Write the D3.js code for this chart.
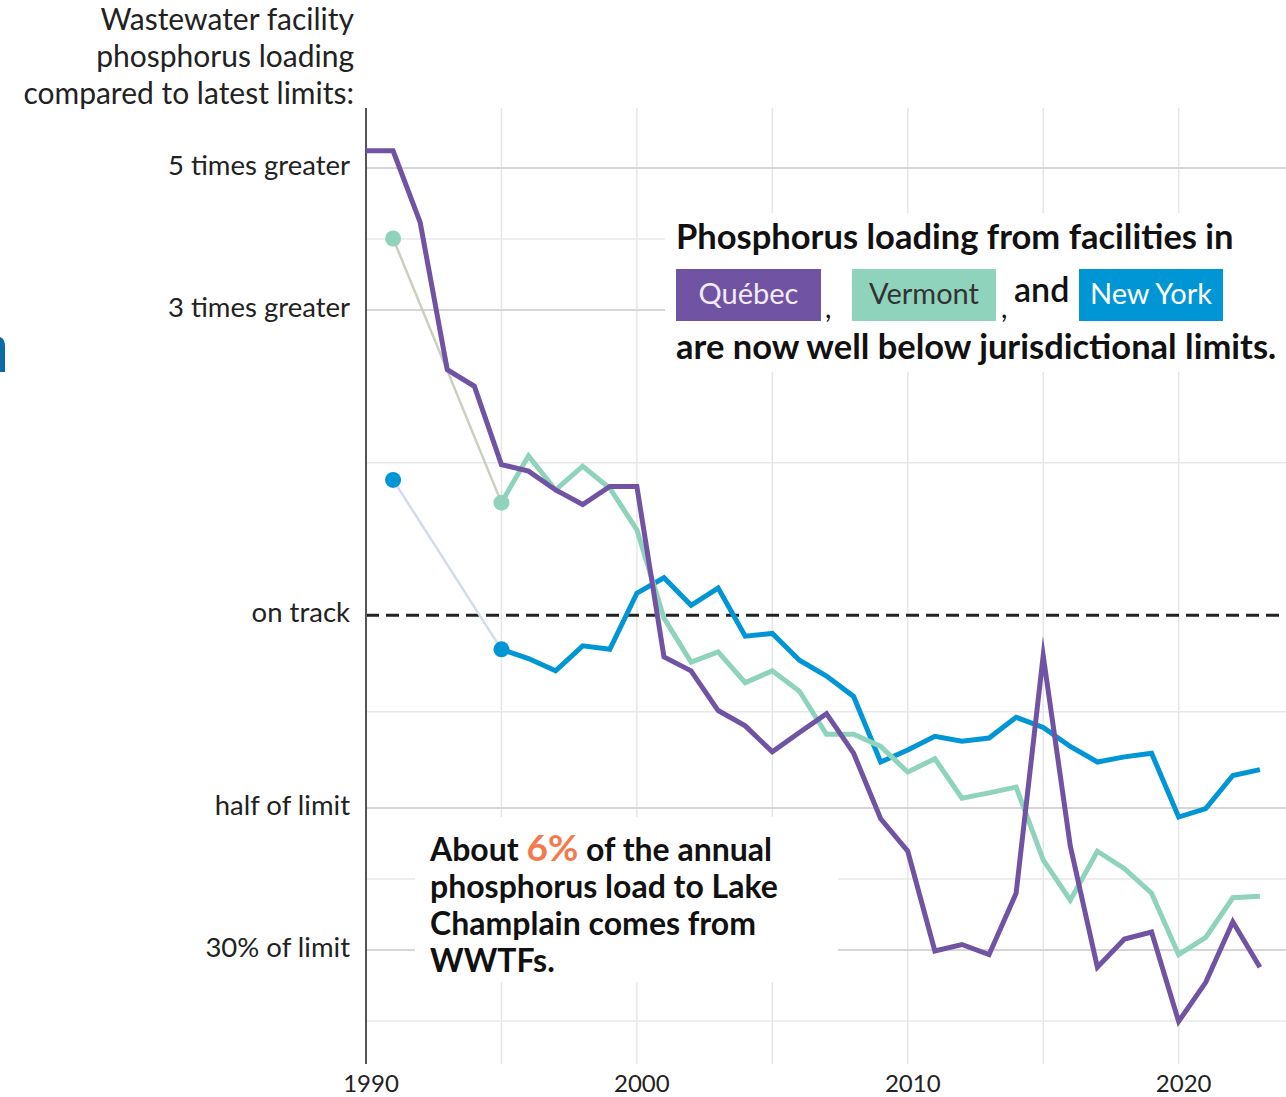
<!DOCTYPE html>
<html>
<head>
<meta charset="utf-8">
<script src="https://cdn.jsdelivr.net/npm/d3@7"></script>
<style>
  body { margin: 0; background: #fff; }
  svg { display: block; font-family: "Lato", "Source Sans Pro", sans-serif; }
</style>
</head>
<body>
<svg id="chart" width="1286" height="1097"></svg>
<script>
// values are loading / latest limit (1 = on track)
const quebecYears = d3.range(1990, 2024);
const quebec = [5.32, 5.32, 4.11, 2.42, 2.28, 1.72, 1.68, 1.57, 1.49, 1.59, 1.59, 0.861, 0.819, 0.71,
  0.672, 0.612, 0.656, 0.702, 0.609, 0.481, 0.428, 0.299, 0.306, 0.295, 0.368, 0.865, 0.436, 0.282,
  0.312, 0.32, 0.232, 0.267, 0.332, 0.282];

const vermontYears = [1991].concat(d3.range(1995, 2024));
const vermont = [3.88, 1.50, 1.775, 1.57, 1.71, 1.58, 1.36, 0.99, 0.845, 0.877, 0.785, 0.819, 0.761,
  0.652, 0.652, 0.624, 0.569, 0.597, 0.518, 0.528, 0.539, 0.415, 0.359, 0.428, 0.402, 0.368, 0.295,
  0.314, 0.362, 0.364];

const newYorkYears = [1991].concat(d3.range(1995, 2024));
const newYork = [1.628, 0.885, 0.856, 0.819, 0.896, 0.885, 1.083, 1.145, 1.037, 1.103, 0.928, 0.937,
  0.851, 0.804, 0.747, 0.59, 0.616, 0.647, 0.636, 0.643, 0.693, 0.668, 0.624, 0.59, 0.601, 0.609,
  0.484, 0.499, 0.562, 0.574];

const yTicks = [5, 3, 1, 0.5, 0.3];
const yTickLabels = ['5 times greater', '3 times greater', 'on track', 'half of limit', '30% of limit'];
const xTicks = [1990, 2000, 2010, 2020];
const xGrid = [1995, 2000, 2005, 2010, 2015, 2020];

const titleLines = ['Wastewater facility', 'phosphorus loading', 'compared to latest limits:'];
const noteLines = ['phosphorus load to Lake', 'Champlain comes from', 'WWTFs.'];

const purple = '#7153a3';
const teal = '#8fd3bd';
const blue = '#0096d6';

const svg = d3.select('#chart');
const plotTop = 108, plotBottom = 1064, plotLeft = 366, plotRight = 1286;

const x = d3.scaleLinear().domain([1990, 2024]).range([366, 1287]);
const y = d3.scaleLog().domain([0.3, 5]).range([950, 168]);

// minor gridlines sit halfway (in log space) between labelled ones
const minor = d3.pairs(yTicks).map(([a, b]) => Math.sqrt(a * b));
minor.push(0.3 * 0.3 / Math.sqrt(0.5 * 0.3));

svg.append('g')
  .selectAll('line')
  .data(xGrid)
  .join('line')
  .attr('x1', d => x(d)).attr('x2', d => x(d))
  .attr('y1', plotTop).attr('y2', plotBottom)
  .attr('stroke', '#e6e6e6')
  .attr('stroke-width', 1.5);

svg.append('g')
  .selectAll('line')
  .data(minor)
  .join('line')
  .attr('x1', plotLeft).attr('x2', plotRight)
  .attr('y1', d => y(d)).attr('y2', d => y(d))
  .attr('stroke', '#e8e8e8')
  .attr('stroke-width', 1.5);

svg.append('g')
  .selectAll('line')
  .data(yTicks.filter(d => d !== 1))
  .join('line')
  .attr('x1', plotLeft).attr('x2', plotRight)
  .attr('y1', d => y(d)).attr('y2', d => y(d))
  .attr('stroke', '#d6d6d6')
  .attr('stroke-width', 2);

// white panels behind the notes
svg.append('rect').attr('x', 665).attr('y', 213).attr('width', 621).attr('height', 159).attr('fill', '#fff');
svg.append('rect').attr('x', 415).attr('y', 817).attr('width', 423).attr('height', 165).attr('fill', '#fff');

svg.append('line')
  .attr('x1', plotLeft).attr('x2', plotRight)
  .attr('y1', y(1)).attr('y2', y(1))
  .attr('stroke', '#222')
  .attr('stroke-width', 3)
  .attr('stroke-dasharray', '13,7');

svg.append('line')
  .attr('x1', plotLeft).attr('x2', plotLeft)
  .attr('y1', plotTop).attr('y2', plotBottom)
  .attr('stroke', '#555')
  .attr('stroke-width', 2);

// y labels
svg.append('g')
  .selectAll('text')
  .data(yTicks)
  .join('text')
  .attr('x', 350)
  .attr('y', d => y(d) + 7)
  .attr('text-anchor', 'end')
  .attr('font-size', 27.5)
  .attr('fill', '#222')
  .text((d, i) => yTickLabels[i]);

svg.append('g')
  .selectAll('text')
  .data(xTicks)
  .join('text')
  .attr('x', d => x(d) + 5)
  .attr('y', 1092)
  .attr('text-anchor', 'middle')
  .attr('font-size', 24)
  .attr('fill', '#222')
  .text(d => d);

svg.append('g')
  .selectAll('text')
  .data(titleLines)
  .join('text')
  .attr('x', 354)
  .attr('y', (d, i) => 30 + i * 37)
  .attr('text-anchor', 'end')
  .attr('font-size', 30)
  .attr('fill', '#222')
  .text(d => d);

// series
const line = d3.line().x(d => x(d[0])).y(d => y(d[1]));

function drawSeries(years, values, color, gapColor) {
  const pts = years.map((yr, i) => [yr, values[i]]);
  if (gapColor) {
    svg.append('path')
      .attr('d', line(pts.slice(0, 2)))
      .attr('fill', 'none')
      .attr('stroke', gapColor)
      .attr('stroke-width', 2.5);
    svg.append('path')
      .attr('d', line(pts.slice(1)))
      .attr('fill', 'none')
      .attr('stroke', color)
      .attr('stroke-width', 5);
    svg.append('g')
      .selectAll('circle')
      .data(pts.slice(0, 2))
      .join('circle')
      .attr('cx', d => x(d[0]))
      .attr('cy', d => y(d[1]))
      .attr('r', 8)
      .attr('fill', color);
  } else {
    svg.append('path')
      .attr('d', line(pts))
      .attr('fill', 'none')
      .attr('stroke', color)
      .attr('stroke-width', 5)
      .attr('stroke-miterlimit', 10);
  }
}

drawSeries(newYorkYears, newYork, blue, '#d3dbea');
drawSeries(vermontYears, vermont, teal, '#cbcfc0');
drawSeries(quebecYears, quebec, purple, null);

// top note
const note = svg.append('g').attr('font-weight', 700).attr('fill', '#111');
note.append('text').attr('x', 676).attr('y', 249).attr('font-size', 34.5)
  .text('Phosphorus loading from facilities in');
note.append('text').attr('x', 676).attr('y', 359).attr('font-size', 34.5)
  .text('are now well below jurisdictional limits.');

const keys = [
  { name: 'Québec', x: 676, w: 145, fill: purple, text: '#f1ecfa' },
  { name: 'Vermont', x: 852, w: 144, fill: teal, text: '#333' },
  { name: 'New York', x: 1079, w: 144, fill: blue, text: '#fff' }
];
const key = svg.append('g').selectAll('g').data(keys).join('g');
key.append('rect')
  .attr('x', d => d.x).attr('y', 269)
  .attr('width', d => d.w).attr('height', 52)
  .attr('fill', d => d.fill);
key.append('text')
  .attr('x', d => d.x + d.w / 2).attr('y', 304)
  .attr('text-anchor', 'middle')
  .attr('font-size', 29)
  .attr('fill', d => d.text)
  .text(d => d.name);

note.append('text').attr('x', 825).attr('y', 318).attr('font-size', 28).attr('font-weight', 400).text(',');
note.append('text').attr('x', 1001).attr('y', 318).attr('font-size', 28).attr('font-weight', 400).text(',');
note.append('text').attr('x', 1014).attr('y', 302).attr('font-size', 34).attr('font-weight', 600).text('and');

// bottom note, one text block
const low = svg.append('text')
  .attr('x', 430).attr('y', 861)
  .attr('font-weight', 700).attr('fill', '#111').attr('font-size', 32);
low.append('tspan').text('About ');
low.append('tspan').attr('fill', '#f47a4e').attr('font-size', 37).text('6%');
low.append('tspan').text(' of the annual');
noteLines.forEach(t => {
  low.append('tspan').attr('x', 430).attr('dy', 37).text(t);
});

// fragment of a cut-off heading at the left edge
svg.append('path')
  .attr('d', 'M0,337 Q5,339 5,346 L5,372 L0,372 Z')
  .attr('fill', '#0b6ca5');
</script>
</body>
</html>
